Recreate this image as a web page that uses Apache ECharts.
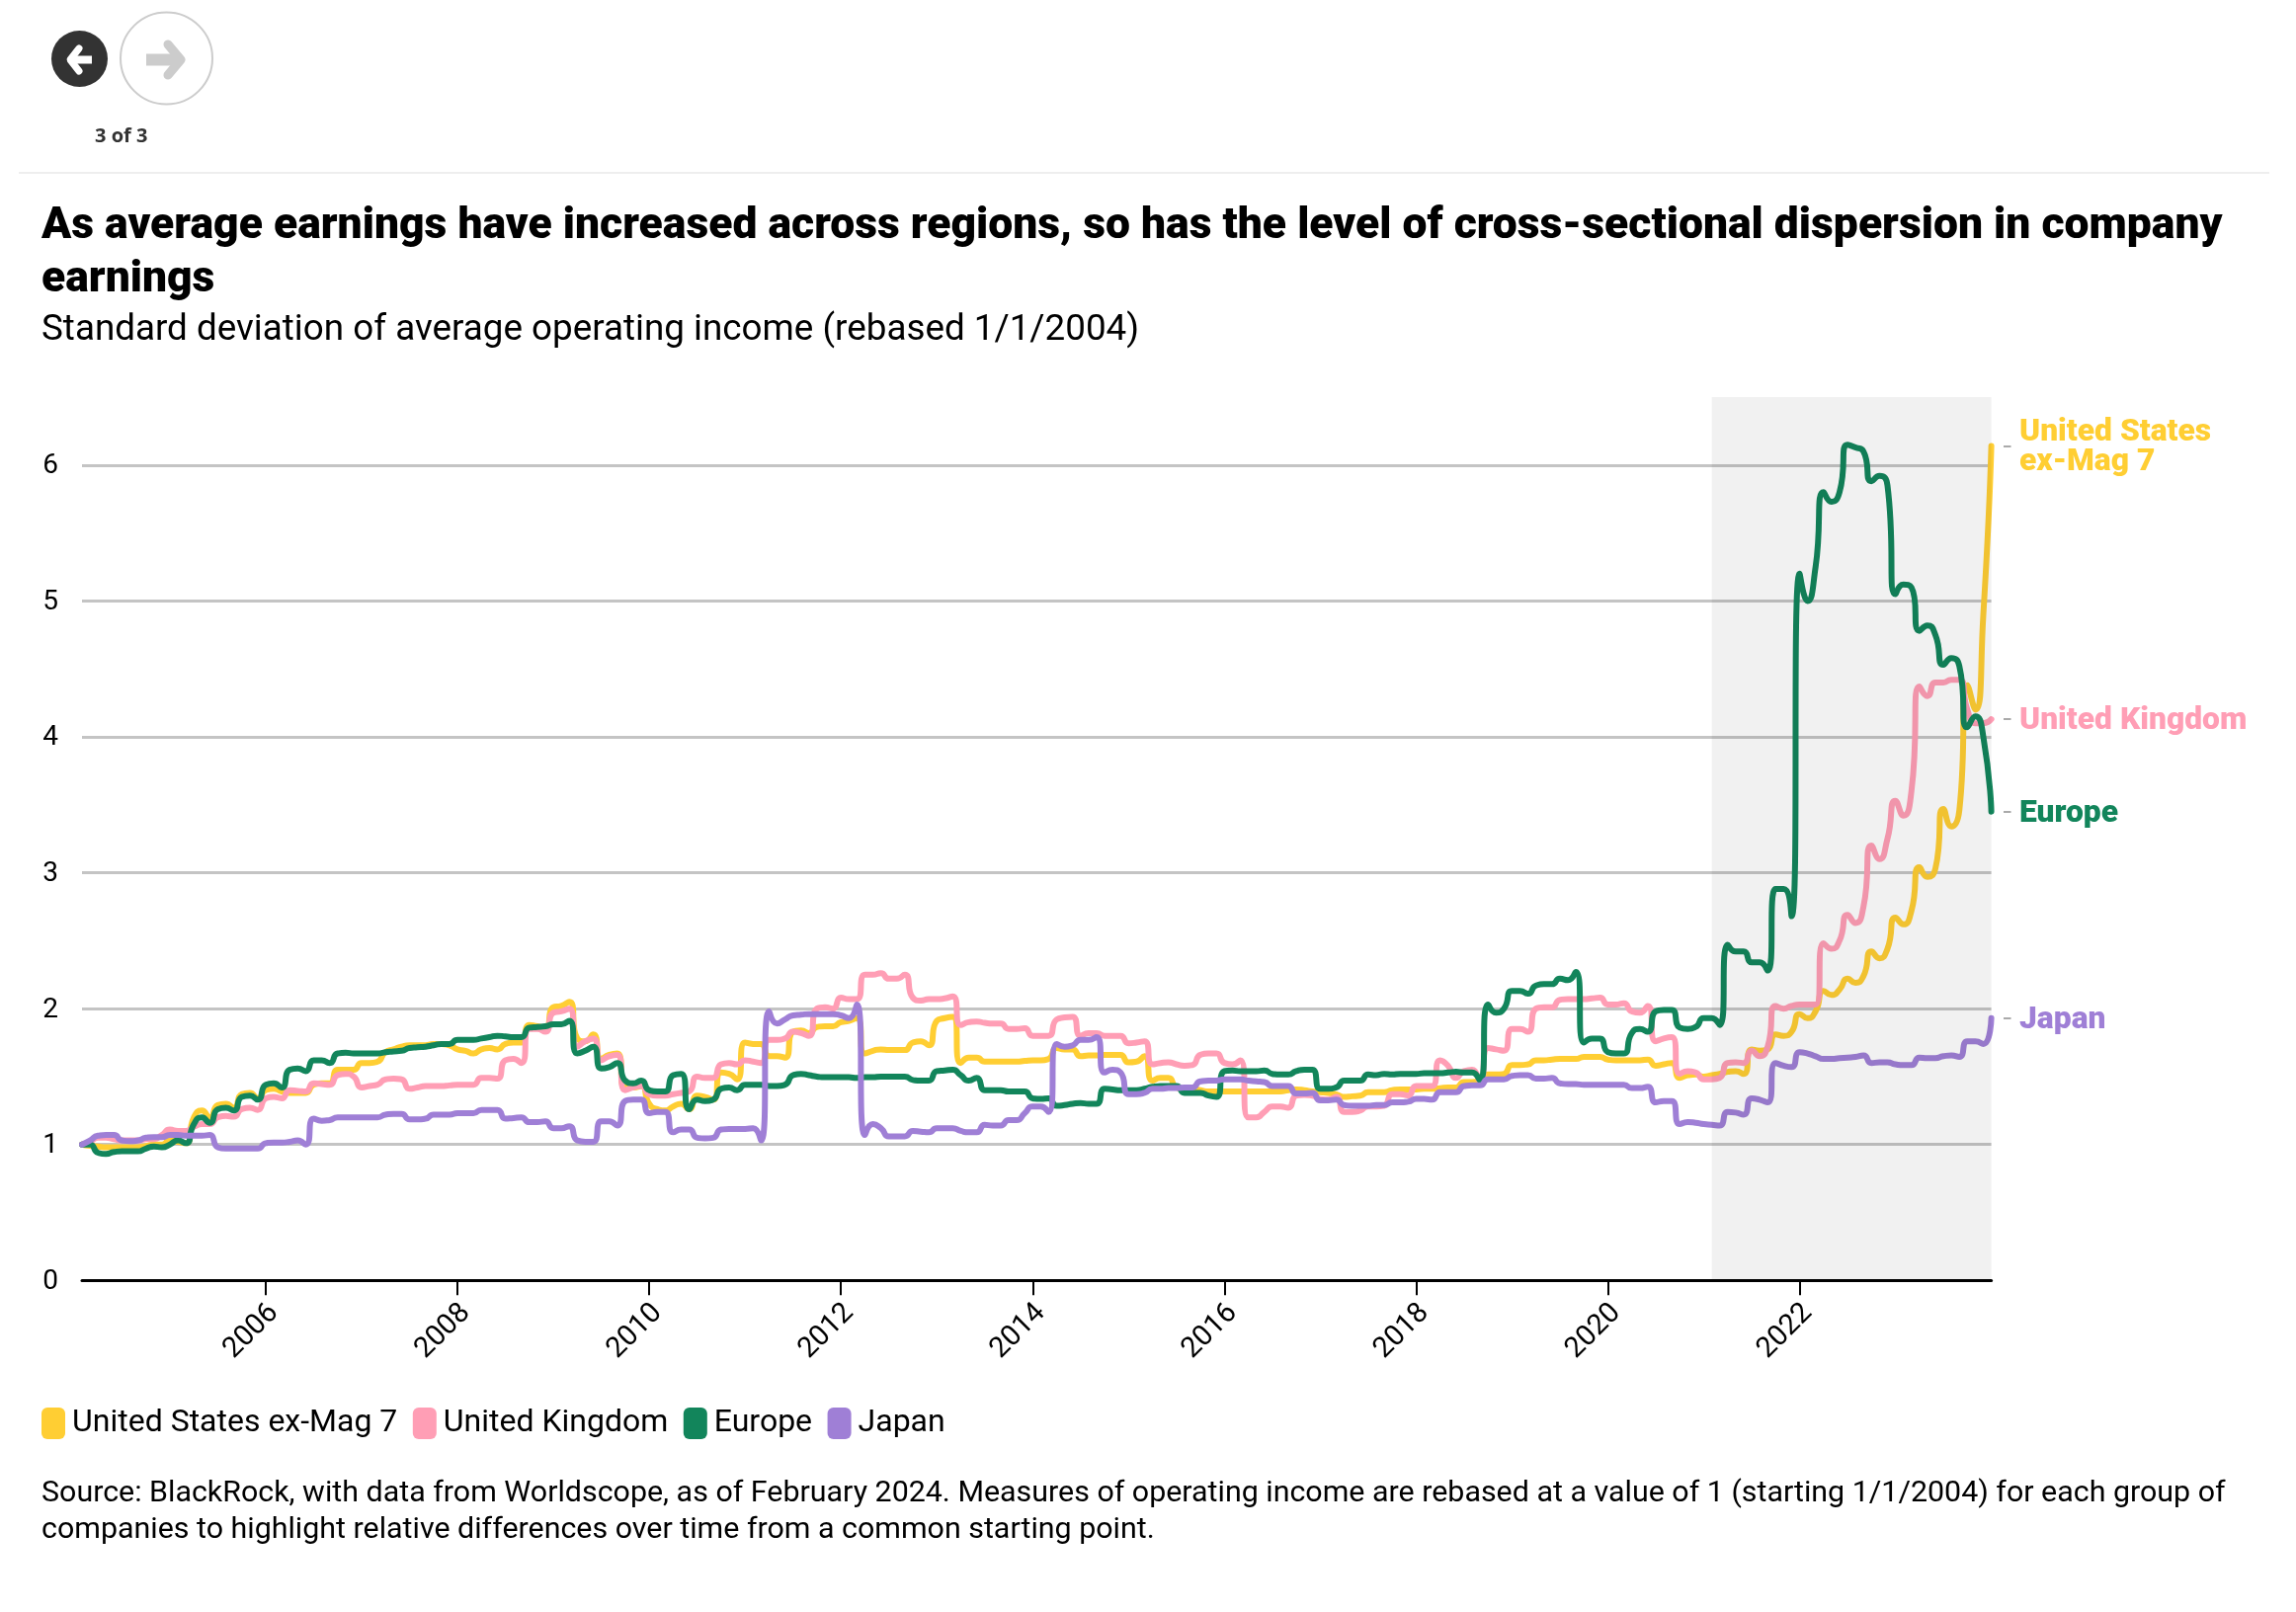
<!DOCTYPE html>
<html><head><meta charset="utf-8">
<style>html,body{margin:0;padding:0;background:#fff}#c{width:2324px;height:1632px}</style>
<script src="https://cdn.jsdelivr.net/npm/echarts@6/dist/echarts.min.js"></script>
</head><body><div id="c"></div>
<script>
const titleText = "As average earnings have increased across regions, so has the level of cross-sectional dispersion in company\nearnings";
const subtitleText = "Standard deviation of average operating income (rebased 1/1/2004)";
const sourceText = "Source: BlackRock, with data from Worldscope, as of February 2024. Measures of operating income are rebased at a value of 1 (starting 1/1/2004) for each group of\ncompanies to highlight relative differences over time from a common starting point.";
const yTicks = [0,1,2,3,4,5,6];
const xTickLabels = ["2006","2008","2010","2012","2014","2016","2018","2020","2022"];
const names = ["United States ex-Mag 7","United Kingdom","Europe","Japan"];
const endNames = ["United States\nex-Mag 7","United Kingdom","Europe","Japan"];
const bandStart = "2021-02", bandEnd = "2024-01";
const months = [];
for (let y=2004,m=2; months.length<240; m++){ if(m>12){m=1;y++;} months.push(y+"-"+String(m).padStart(2,"0")); }

const usExMag7 = [
1.00,.99,.985,.98,.98,.98,.98,.98,.99,1.00,1.00,1.03,
1.02,1.01,1.20,1.25,1.20,1.29,1.30,1.27,1.37,1.38,1.34,1.40,
1.41,1.39,1.38,1.38,1.38,1.44,1.45,1.45,1.55,1.55,1.55,1.60,
1.60,1.61,1.68,1.70,1.72,1.73,1.73,1.73,1.74,1.74,1.73,1.70,
1.69,1.67,1.70,1.71,1.70,1.74,1.75,1.75,1.88,1.87,1.86,2.01,
2.02,2.05,1.78,1.76,1.81,1.63,1.66,1.67,1.42,1.42,1.43,1.30,
1.26,1.25,1.28,1.30,1.26,1.36,1.35,1.33,1.53,1.52,1.48,1.75,
1.74,1.74,1.65,1.65,1.64,1.83,1.84,1.82,1.865,1.87,1.87,1.90,
1.91,1.93,1.67,1.69,1.70,1.695,1.695,1.695,1.75,1.76,1.73,1.91,
1.93,1.94,1.60,1.64,1.64,1.61,1.61,1.61,1.61,1.61,1.615,1.62,
1.62,1.63,1.71,1.70,1.70,1.65,1.655,1.655,1.66,1.66,1.66,1.605,
1.61,1.65,1.47,1.49,1.49,1.42,1.41,1.41,1.40,1.39,1.39,1.39,
1.39,1.39,1.39,1.39,1.39,1.39,1.39,1.40,1.405,1.40,1.39,1.385,
1.38,1.37,1.35,1.355,1.36,1.385,1.385,1.385,1.40,1.405,1.405,1.405,
1.41,1.41,1.415,1.42,1.42,1.46,1.46,1.47,1.515,1.515,1.52,1.585,
1.585,1.59,1.62,1.62,1.625,1.63,1.63,1.63,1.645,1.645,1.645,1.625,
1.62,1.62,1.62,1.62,1.625,1.58,1.59,1.60,1.49,1.51,1.515,1.50,
1.51,1.52,1.535,1.54,1.52,1.70,1.69,1.70,1.81,1.80,1.83,1.96,
1.93,1.98,2.13,2.10,2.14,2.22,2.19,2.24,2.42,2.37,2.44,2.67,
2.62,2.72,3.04,2.97,3.03,3.47,3.34,3.46,4.38,4.20,4.90,6.14];

const unitedKingdom = [
1.00,1.02,1.05,1.05,1.04,1.03,1.03,1.03,1.04,1.04,1.07,1.11,
1.10,1.10,1.13,1.15,1.15,1.20,1.21,1.205,1.26,1.27,1.255,1.34,
1.35,1.34,1.40,1.395,1.39,1.45,1.445,1.44,1.51,1.52,1.50,1.42,
1.43,1.44,1.48,1.485,1.48,1.41,1.42,1.43,1.43,1.43,1.435,1.44,
1.44,1.44,1.49,1.49,1.485,1.62,1.63,1.60,1.85,1.85,1.83,1.97,
1.98,2.00,1.72,1.76,1.78,1.62,1.65,1.66,1.40,1.42,1.43,1.37,
1.36,1.36,1.37,1.38,1.39,1.50,1.49,1.49,1.59,1.60,1.59,1.62,
1.61,1.60,1.77,1.77,1.78,1.83,1.82,1.80,2.00,2.01,2.00,2.08,
2.07,2.07,2.25,2.25,2.26,2.22,2.22,2.25,2.08,2.06,2.07,2.07,
2.075,2.09,1.88,1.90,1.905,1.895,1.89,1.89,1.85,1.85,1.855,1.80,
1.80,1.80,1.92,1.935,1.94,1.80,1.82,1.82,1.80,1.80,1.80,1.745,
1.75,1.76,1.59,1.60,1.605,1.59,1.58,1.585,1.66,1.67,1.67,1.60,
1.59,1.62,1.20,1.20,1.24,1.28,1.28,1.27,1.36,1.365,1.36,1.335,
1.33,1.35,1.24,1.24,1.25,1.28,1.28,1.285,1.37,1.37,1.36,1.43,
1.43,1.43,1.62,1.58,1.49,1.54,1.55,1.47,1.71,1.70,1.69,1.85,
1.85,1.83,2.00,2.01,2.01,2.065,2.07,2.07,2.07,2.075,2.08,2.03,
2.03,2.04,1.98,1.97,2.02,1.76,1.78,1.79,1.52,1.54,1.53,1.48,
1.48,1.49,1.60,1.605,1.60,1.69,1.65,1.72,2.02,2.00,2.02,2.03,
2.03,2.03,2.48,2.44,2.50,2.69,2.63,2.75,3.20,3.10,3.25,3.53,
3.42,3.60,4.37,4.30,4.40,4.40,4.42,4.42,4.20,4.10,4.10,4.13];

const europe = [
1.00,1.00,.94,.93,.945,.95,.95,.95,.97,.985,.98,1.00,
1.03,1.01,1.15,1.20,1.16,1.26,1.27,1.25,1.35,1.36,1.33,1.44,
1.45,1.42,1.55,1.56,1.54,1.62,1.62,1.60,1.67,1.675,1.67,1.67,
1.67,1.67,1.68,1.685,1.69,1.71,1.715,1.72,1.73,1.74,1.74,1.77,
1.77,1.77,1.78,1.79,1.80,1.795,1.79,1.79,1.86,1.865,1.87,1.885,
1.885,1.91,1.67,1.69,1.72,1.56,1.57,1.60,1.47,1.45,1.47,1.40,
1.39,1.39,1.51,1.52,1.26,1.33,1.32,1.33,1.41,1.42,1.40,1.44,
1.44,1.44,1.43,1.43,1.44,1.51,1.52,1.51,1.50,1.495,1.495,1.495,
1.495,1.49,1.495,1.495,1.50,1.50,1.50,1.50,1.475,1.47,1.47,1.54,
1.545,1.55,1.51,1.47,1.49,1.40,1.40,1.40,1.39,1.39,1.39,1.34,
1.335,1.34,1.285,1.29,1.30,1.305,1.30,1.30,1.41,1.405,1.40,1.40,
1.40,1.41,1.425,1.43,1.43,1.43,1.38,1.38,1.38,1.36,1.35,1.54,
1.545,1.54,1.54,1.54,1.545,1.52,1.515,1.515,1.54,1.55,1.55,1.41,
1.41,1.42,1.47,1.47,1.47,1.515,1.51,1.52,1.515,1.52,1.52,1.52,
1.525,1.525,1.525,1.53,1.535,1.53,1.53,1.47,2.03,1.97,2.00,2.13,
2.13,2.11,2.17,2.18,2.18,2.22,2.21,2.27,1.75,1.78,1.78,1.68,
1.67,1.67,1.82,1.85,1.83,1.98,1.99,1.99,1.86,1.85,1.865,1.93,
1.93,1.88,2.47,2.42,2.42,2.34,2.34,2.28,2.88,2.88,2.68,5.20,
5.00,5.25,5.80,5.73,5.80,6.15,6.13,6.10,5.88,5.92,5.85,5.05,
5.12,5.10,4.78,4.82,4.75,4.53,4.58,4.52,4.07,4.15,4.00,3.45];

const japan = [
1.00,1.03,1.065,1.07,1.07,1.03,1.025,1.03,1.05,1.055,1.055,1.07,
1.07,1.065,1.065,1.065,1.07,.98,.97,.97,.97,.97,.97,1.01,
1.015,1.015,1.02,1.03,1.00,1.19,1.175,1.18,1.20,1.20,1.20,1.20,
1.20,1.20,1.22,1.225,1.225,1.185,1.185,1.19,1.22,1.22,1.22,1.23,
1.23,1.23,1.255,1.255,1.255,1.19,1.195,1.20,1.165,1.165,1.17,1.12,
1.12,1.135,1.03,1.02,1.02,1.17,1.17,1.14,1.32,1.33,1.33,1.23,
1.24,1.24,1.09,1.11,1.11,1.05,1.045,1.05,1.11,1.115,1.115,1.115,
1.12,1.03,1.98,1.89,1.92,1.95,1.955,1.96,1.96,1.96,1.96,1.95,
1.93,2.03,1.07,1.15,1.12,1.06,1.06,1.06,1.10,1.095,1.09,1.12,
1.12,1.12,1.10,1.09,1.09,1.145,1.14,1.14,1.18,1.18,1.23,1.28,
1.28,1.24,1.74,1.72,1.73,1.77,1.77,1.79,1.53,1.55,1.53,1.37,
1.37,1.38,1.41,1.41,1.415,1.415,1.42,1.42,1.465,1.47,1.47,1.48,
1.48,1.48,1.47,1.465,1.46,1.43,1.43,1.43,1.375,1.375,1.38,1.325,
1.325,1.33,1.29,1.285,1.285,1.285,1.29,1.29,1.31,1.31,1.315,1.335,
1.335,1.33,1.385,1.385,1.385,1.43,1.435,1.435,1.48,1.48,1.48,1.505,
1.51,1.51,1.485,1.485,1.49,1.45,1.445,1.445,1.44,1.44,1.44,1.44,
1.44,1.44,1.415,1.415,1.425,1.31,1.32,1.32,1.15,1.165,1.16,1.15,
1.145,1.14,1.24,1.235,1.22,1.34,1.33,1.31,1.60,1.58,1.57,1.68,
1.67,1.65,1.63,1.63,1.635,1.64,1.645,1.655,1.60,1.605,1.605,1.59,
1.585,1.585,1.64,1.635,1.635,1.65,1.655,1.645,1.76,1.76,1.74,1.93];

const seriesValues = [usExMag7, unitedKingdom, europe, japan];
const colors = ["#ffce33","#ff9eb5","#12855b","#9f7fd6"];
const endValues = seriesValues.map(a => a[a.length-1]);
const rich = {};
colors.forEach((c,i)=>{ rich["s"+i] = {color:c, fontFamily:"Roboto", fontWeight:900, fontSize:31.8, lineHeight:30}; });
const F = "Roboto";
const yRich = {a:{fontFamily:F, fontSize:28, color:"#000", padding:[3,0,0,0]}};

const chart = echarts.init(document.getElementById("c"), null, {renderer:"canvas"});
const seriesList = names.map((n,i)=>({
  name:n, type:"line", data:seriesValues[i], symbol:"none", smooth:0.6, z:2+i,
  lineStyle:{color:colors[i], width:6, cap:"round", join:"round"}, itemStyle:{color:colors[i]},
  markArea: i===3 ? {silent:true, z:20, itemStyle:{color:"rgba(0,0,0,0.055)"}, label:{show:false},
    data:[[{xAxis:bandStart},{xAxis:bandEnd}]]} : undefined
}));
const txt = (x,y,text,font,fill,extra) => ({type:"text", silent:true, z:50,
  style:Object.assign({x,y,text,font,fill,textAlign:"left",textVerticalAlign:"bottom",verticalAlign:"bottom"},extra||{})});
chart.setOption({
  animation:false, backgroundColor:"#fff",
  grid:{left:83, right:2324-2015.6, top:402, bottom:1632-1296.3, containLabel:false},
  legend:{left:42, top:1425, icon:"roundRect", itemWidth:24, itemHeight:32, itemGap:15.5, selectedMode:false, padding:0,
    textStyle:{fontFamily:F, fontSize:32, color:"#000", padding:[0,0,0,2]}, data:names},
  xAxis:{type:"category", data:months, boundaryGap:false,
    axisLine:{lineStyle:{color:"#000", width:3}},
    axisTick:{length:15, interval:(i,v)=>v.endsWith("-01")&&xTickLabels.includes(v.slice(0,4)), lineStyle:{color:"#000", width:2}},
    axisLabel:{interval:(i,v)=>v.endsWith("-01")&&xTickLabels.includes(v.slice(0,4)), formatter:v=>v.slice(0,4), rotate:45, margin:20, verticalAlign:"top", lineHeight:24,
      fontFamily:F, fontSize:29, color:"#000"},
    splitLine:{show:false}},
  yAxis:[{type:"value", min:0, max:6.5, interval:1,
    axisLine:{show:false},
    axisTick:{show:false, customValues:yTicks},
    axisLabel:{customValues:yTicks, margin:24, formatter:v=>"{a|"+v+"}", rich:yRich},
    splitLine:{show:true, lineStyle:{color:"#c4c4c4", width:3}}},
   {type:"value", min:0, max:6.5, position:"right", offset:12.4,
    axisLine:{show:false}, splitLine:{show:false},
    axisTick:{show:true, length:7.5, customValues:endValues, lineStyle:{color:"#aaaaaa", width:2}},
    axisLabel:{show:true, customValues:endValues, margin:16, align:"left", padding:[4,0,0,0],
      formatter:v=>{const i=endValues.indexOf(v); return endNames[i].split("\n").map(t=>"{s"+i+"|"+t+"}").join("\n");}, rich}}],
  series:seriesList,
  graphic:[
    {type:"circle", silent:true, shape:{cx:80.5,cy:59.5,r:28.5}, style:{fill:"#333333"}},
    {type:"polyline", silent:true, shape:{points:[[80,49],[71,60.5],[80,72]]}, style:{fill:"none",stroke:"#fff",lineWidth:7,lineCap:"round",lineJoin:"round"}},
    {type:"line", silent:true, shape:{x1:73,y1:60.5,x2:93,y2:60.5}, style:{stroke:"#fff",lineWidth:8}},
    {type:"circle", silent:true, shape:{cx:168.5,cy:59,r:46.5}, style:{fill:"#fff",stroke:"#cccccc",lineWidth:2}},
    {type:"polyline", silent:true, shape:{points:[[170,45],[183,60.5],[170,76]]}, style:{fill:"none",stroke:"#cccccc",lineWidth:9,lineCap:"round",lineJoin:"round"}},
    {type:"line", silent:true, shape:{x1:148,y1:60.5,x2:180,y2:60.5}, style:{stroke:"#cccccc",lineWidth:12}},
    {type:"line", silent:true, shape:{x1:19,y1:175,x2:2297,y2:175}, style:{stroke:"#eeeeee",lineWidth:2}},
    txt(96,148,"3 of 3","bold 20px 'Open Sans'","#333333"),
    txt(42,251.5,titleText.split("\n")[0],"900 44.45px Roboto","#000"),
    txt(42,305.5,titleText.split("\n")[1],"900 44.45px Roboto","#000"),
    txt(42,353,subtitleText,"36.8px Roboto","#000"),
    txt(42,1527,sourceText.split("\n")[0],"30.4px Roboto","#000"),
    txt(42,1564,sourceText.split("\n")[1],"30.4px Roboto","#000")
  ]
});
</script></body></html>
